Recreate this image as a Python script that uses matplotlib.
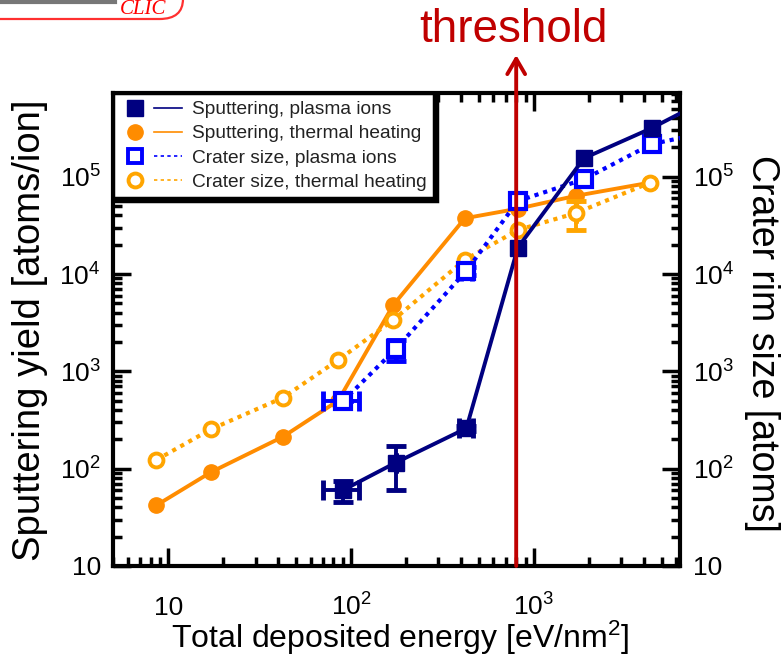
import numpy as np
import matplotlib
matplotlib.use("Agg")
import matplotlib.pyplot as plt
from matplotlib.lines import Line2D
from matplotlib.legend_handler import HandlerTuple
from matplotlib.ticker import FixedLocator, FuncFormatter, LogLocator, NullFormatter
import matplotlib.patches as mpatches

plt.rcParams['font.family'] = ['Liberation Sans', 'DejaVu Sans']
plt.rcParams['mathtext.fontset'] = 'custom'
plt.rcParams['mathtext.rm'] = 'Liberation Sans'
plt.rcParams['mathtext.it'] = 'Liberation Sans:italic'

# ---------------- data ----------------
# Sputtering, plasma ions
e_sp_plasma = [90, 175, 427, 817, 1880, 4400, 10000]
y_sp_plasma = [60, 115, 260, 18700, 155000, 315000, 700000]
xerr_sp_plasma = [20, 0, 40, 0, 0, 0, 0]
yerr_sp_plasma = [15, 55, 15, 0, 0, 0, 0]

# Sputtering, thermal heating
e_thermal = [8.6, 17.1, 42.4, 85, 170, 419, 820, 1690, 4330]
y_sp_thermal = [42, 92, 213, 500, 4800, 37400, 47000, 63500, 87000]

# Crater size, plasma ions
e_cr_plasma = [90, 175, 427, 817, 1880, 4400, 10000]
y_cr_plasma = [491, 1690, 10800, 56300, 94200, 216000, 300000]
xerr_cr_plasma = [20, 0, 30, 0, 0, 0, 0]
yerr_cr_plasma = [0, 400, 1000, 0, 0, 0, 0]

# Crater size, thermal heating
y_cr_thermal = [123, 254, 537, 1310, 3370, 14000, 28400, 42200, 87000]
yerr_cr_thermal = [0, 0, 0, 0, 0, 0, 0, 14000, 0]

threshold_energy = 800

labels = ["Sputtering, plasma ions", "Sputtering, thermal heating",
          "Crater size, plasma ions", "Crater size, thermal heating"]

# ---------------- styles ----------------
NAVY = '#000080'
DORANGE = '#FF8C00'
BLUE = '#0000FF'
ORANGE = '#FFA500'
RED = '#C00000'

fig = plt.figure(figsize=(7.81, 6.71), dpi=100)
ax = fig.add_axes([0.1451, 0.1565, 0.7256, 0.7045])
ax.set_xscale('log')
ax.set_yscale('log')
ax.set_xlim(5, 6300)
ax.set_ylim(10, 7.2e5)

def errbars(x, y, xe, ye, color, z):
    x = np.asarray(x, float); y = np.asarray(y, float)
    xe = np.asarray(xe, float); ye = np.asarray(ye, float)
    m = (xe > 0) | (ye > 0)
    if m.any():
        ax.errorbar(x[m], y[m], xerr=xe[m], yerr=ye[m], fmt='none', ecolor=color,
                    elinewidth=2.8, capsize=7, capthick=3.5, zorder=z)

# orange solid
ax.plot(e_thermal, y_sp_thermal, '-o', color=DORANGE, lw=2.8, ms=11,
        mfc=DORANGE, mec=DORANGE, zorder=3)
# orange dotted, open circles
errbars(e_thermal, y_cr_thermal, [0]*len(e_thermal), yerr_cr_thermal, ORANGE, 3.5)
ax.plot(e_thermal, y_cr_thermal, linestyle=(0, (1, 1.2)), marker='o', color=ORANGE,
        lw=3, ms=10, mfc='white', mec=ORANGE, mew=2.8, zorder=4)
# blue dotted, open squares
errbars(e_cr_plasma, y_cr_plasma, xerr_cr_plasma, yerr_cr_plasma, BLUE, 4.5)
ax.plot(e_cr_plasma, y_cr_plasma, linestyle=(0, (1, 1.2)), marker='s', color=BLUE,
        lw=3, ms=11, mfc='white', mec=BLUE, mew=3, zorder=5)
# navy solid, filled squares
errbars(e_sp_plasma, y_sp_plasma, xerr_sp_plasma, yerr_sp_plasma, NAVY, 5.5)
ax.plot(e_sp_plasma, y_sp_plasma, '-s', color=NAVY, lw=2.8, ms=12,
        mfc=NAVY, mec=NAVY, zorder=6)

# threshold arrow
trans = ax.get_xaxis_transform()
ax.annotate('', xy=(threshold_energy, 1.081), xytext=(threshold_energy, 0.0),
            xycoords=trans, textcoords=trans, annotation_clip=False,
            arrowprops=dict(arrowstyle='->,head_length=0.55,head_width=0.32',
                            color=RED, lw=2.8, shrinkA=0, shrinkB=0,
                            mutation_scale=20), zorder=10)
fig.text(513/781, 1 - 30/671, 'threshold', color=RED, fontsize=33,
         ha='center', va='center')

# spines & ticks
for s in ax.spines.values():
    s.set_linewidth(3)
ax.tick_params(which='both', direction='in', top=True, right=True,
               labelright=True, width=2.5, colors='black')
ax.tick_params(which='major', length=13, labelsize=19)
ax.tick_params(which='minor', length=6.5)
ax.tick_params(axis='x', which='major', pad=35.5)
ax.tick_params(axis='y', which='major', pad=9)

def fmt(v, pos):
    n = int(round(np.log10(v)))
    if n == 1:
        return '10'
    return r'$\mathregular{10^{%d}}$' % n

ax.xaxis.set_major_locator(FixedLocator([10, 100, 1000]))
ax.yaxis.set_major_locator(FixedLocator([10, 100, 1e3, 1e4, 1e5]))
ax.xaxis.set_major_formatter(FuncFormatter(fmt))
ax.yaxis.set_major_formatter(FuncFormatter(fmt))
ax.xaxis.set_minor_locator(LogLocator(base=10, subs=np.arange(2, 10), numticks=20))
ax.yaxis.set_minor_locator(LogLocator(base=10, subs=np.arange(2, 10), numticks=20))
ax.xaxis.set_minor_formatter(NullFormatter())
ax.yaxis.set_minor_formatter(NullFormatter())

# axis labels
ax.set_xlabel(r'Total deposited energy [eV/nm$\mathregular{^2}$]', fontsize=23, va='center')
ax.xaxis.set_label_coords(0.506, -0.152)
ax.set_ylabel('Sputtering yield [atoms/ion]', fontsize=27.5, va='center')
ax.yaxis.set_label_coords(-0.147, 0.499)
ax.text(1.145, 0.47, 'Crater rim size [atoms]', transform=ax.transAxes,
        rotation=270, fontsize=27, ha='center', va='center')

# legend
h1 = (Line2D([], [], ls='none', marker='s', ms=11, color=NAVY),
      Line2D([], [], ls='-', lw=1.2, color=NAVY))
h2 = (Line2D([], [], ls='none', marker='o', ms=11, color=DORANGE),
      Line2D([], [], ls='-', lw=1.2, color=DORANGE))
h3 = (Line2D([], [], ls='none', marker='s', ms=10, mfc='white', mec=BLUE, mew=2.8),
      Line2D([], [], ls=(0, (2, 2)), lw=1.2, color=BLUE))
h4 = (Line2D([], [], ls='none', marker='o', ms=10, mfc='white', mec=ORANGE, mew=2.8),
      Line2D([], [], ls=(0, (2, 2)), lw=1.2, color=ORANGE))
leg = ax.legend([h1, h2, h3, h4], labels, loc='upper left', bbox_to_anchor=(0, 1),
                borderaxespad=0, fontsize=13.8, handlelength=3.2, handletextpad=0.5,
                labelspacing=0.35, borderpad=0.4,
                handler_map={tuple: HandlerTuple(ndivide=None, pad=0.2)},
                fancybox=False, framealpha=1, edgecolor='black',
                shadow={'color': 'black', 'alpha': 1})
leg.get_frame().set_linewidth(2.5)
leg.set_zorder(20)
for t in leg.get_texts():
    t.set_color('#222222')

# CLIC logo fragment (top-left)
fig.add_artist(Line2D([0, 115/781], [1 - 1.5/671, 1 - 1.5/671], color='#777777', lw=3,
                      transform=fig.transFigure))
fig.add_artist(mpatches.FancyBboxPatch((-0.05, 1 - 19/671), 0.05 + 183/781, 0.08,
                                       boxstyle='round,pad=0,rounding_size=0.03',
                                       transform=fig.transFigure, fc='none',
                                       ec='#FF3030', lw=1.6))
fig.text(143/781, 1 - 9/671, 'CLIC', color='red', fontsize=15, style='italic',
         family='Liberation Serif', ha='center', va='center')

fig.canvas.draw()
for lbl in ax.get_xticklabels():
    lbl.set_va('baseline')

fig.savefig('out.png', dpi=100)
